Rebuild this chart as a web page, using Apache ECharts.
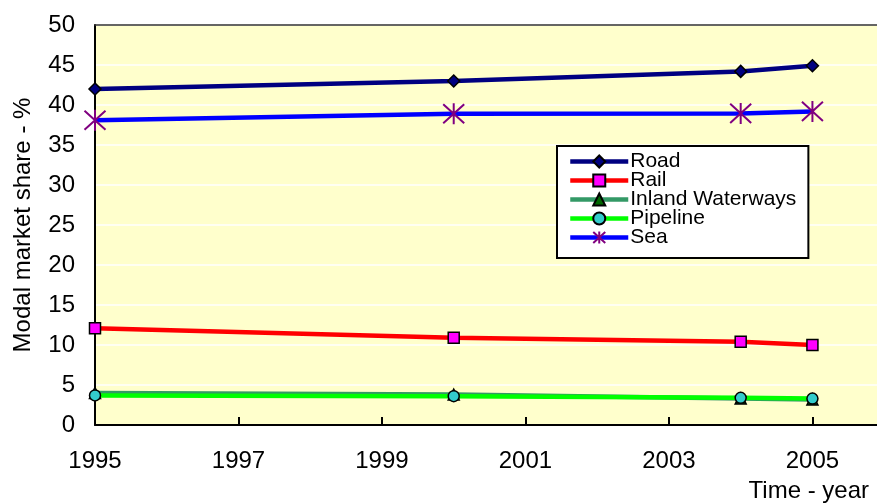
<!DOCTYPE html>
<html>
<head>
<meta charset="utf-8">
<script src="https://cdn.jsdelivr.net/npm/echarts@6/dist/echarts.min.js"></script>
<style>
  html, body { margin: 0; padding: 0; background: #ffffff; }
  #chart { width: 877px; height: 503px; }
</style>
</head>
<body>
<div id="chart"></div>
<script>
// Modal market share of freight transport, % by year
const years = [1995, 2000, 2004, 2005];
const road = [42.0, 43.0, 44.2, 44.9];
const rail = [12.1, 10.9, 10.4, 10.0];
const inlandWaterways = [4.0, 3.8, 3.3, 3.2];
const pipeline = [3.7, 3.6, 3.4, 3.3];
const sea = [38.1, 38.9, 38.95, 39.2];

const xTickLabels = [1995, 1997, 1999, 2001, 2003, 2005];
const yTickLabels = [0, 5, 10, 15, 20, 25, 30, 35, 40, 45, 50];

const FONT = "'Liberation Sans', Arial, sans-serif";
const X_MIN = 1995, X_MAX = 2005.9;

function pairs(vals) {
  return years.map((y, i) => [y, vals[i]]);
}

const asterisk = 'path://M-10,-10L10,10M-10,10L10,-10M0,-11L0,11';

const seriesDefs = [
  { name: 'Road', values: road, line: '#000080', symbol: 'diamond', size: 12, fill: '#000080', border: '#000000', bw: 1.5 },
  { name: 'Rail', values: rail, line: '#FF0000', symbol: 'rect', size: 11, fill: '#FF00FF', border: '#000000', bw: 1.5 },
  { name: 'Inland Waterways', values: inlandWaterways, line: '#339966', symbol: 'triangle', size: 11, fill: '#006600', border: '#000000', bw: 1.5 },
  { name: 'Pipeline', values: pipeline, line: '#00FF00', symbol: 'circle', size: 11, fill: '#33CCCC', border: '#000000', bw: 1.5 },
  { name: 'Sea', values: sea, line: '#0000FF', symbol: asterisk, size: 21, fill: '#800080', border: '#800080', bw: 2 }
];

const chart = echarts.init(document.getElementById('chart'), null, { renderer: 'canvas' });

chart.setOption({
  animation: false,
  backgroundColor: '#ffffff',
  textStyle: { fontFamily: FONT },
  grid: {
    left: 95, top: 25, right: 0, bottom: 78,
    show: true,
    backgroundColor: '#FFFFCC',
    borderWidth: 0
  },
  legend: {
    orient: 'vertical',
    left: 557, top: 146,
    backgroundColor: '#ffffff',
    borderColor: '#000000',
    borderWidth: 2,
    borderRadius: 0,
    padding: [5, 12, 10, 11],
    itemWidth: 58,
    itemHeight: 15,
    itemGap: -2,
    lineStyle: { width: 4.5 },
    textStyle: { fontFamily: FONT, fontSize: 21, color: '#000000', lineHeight: 19, padding: [0, 0, 0, -3] },
    data: seriesDefs.map(s => s.name)
  },
  xAxis: [{
    type: 'value',
    min: X_MIN,
    max: X_MAX,
    name: 'Time - year',
    nameLocation: 'end',
    nameGap: -8,
    nameTextStyle: {
      fontFamily: FONT, fontSize: 24, color: '#000000',
      align: 'right', verticalAlign: 'top', padding: [54, 0, 0, 0]
    },
    axisLine: { onZero: false, lineStyle: { color: '#000000', width: 2 } },
    axisTick: { inside: true, length: 8, lineStyle: { color: '#000000', width: 2 }, customValues: xTickLabels },
    axisLabel: { margin: 24, fontFamily: FONT, fontSize: 24, color: '#000000', customValues: xTickLabels, formatter: v => String(v) },
    splitLine: { show: false }
  }, {
    // top frame line of the plot area
    type: 'value',
    position: 'top',
    min: X_MIN,
    max: X_MAX,
    axisLine: { onZero: false, lineStyle: { color: '#333333', width: 1.5 } },
    axisTick: { show: false },
    axisLabel: { show: false },
    splitLine: { show: false }
  }],
  yAxis: {
    type: 'value',
    min: 0,
    max: 50,
    interval: 5,
    name: 'Modal market share - %',
    nameLocation: 'middle',
    nameGap: 60,
    nameTextStyle: { fontFamily: FONT, fontSize: 24, color: '#000000' },
    axisLine: { show: true, lineStyle: { color: '#000000', width: 2 } },
    axisTick: { show: false },
    axisLabel: { margin: 20, fontFamily: FONT, fontSize: 24, color: '#000000', customValues: yTickLabels },
    splitLine: { show: true, lineStyle: { color: '#ffffff', width: 1.5 } }
  },
  series: seriesDefs.map(s => ({
    name: s.name,
    type: 'line',
    xAxisIndex: 0,
    data: pairs(s.values),
    symbol: s.symbol,
    symbolSize: s.size,
    showAllSymbol: true,
    lineStyle: { color: s.line, width: 4.5 },
    itemStyle: { color: s.fill, borderColor: s.border, borderWidth: s.bw },
    emphasis: { disabled: true }
  }))
});
</script>
</body>
</html>
